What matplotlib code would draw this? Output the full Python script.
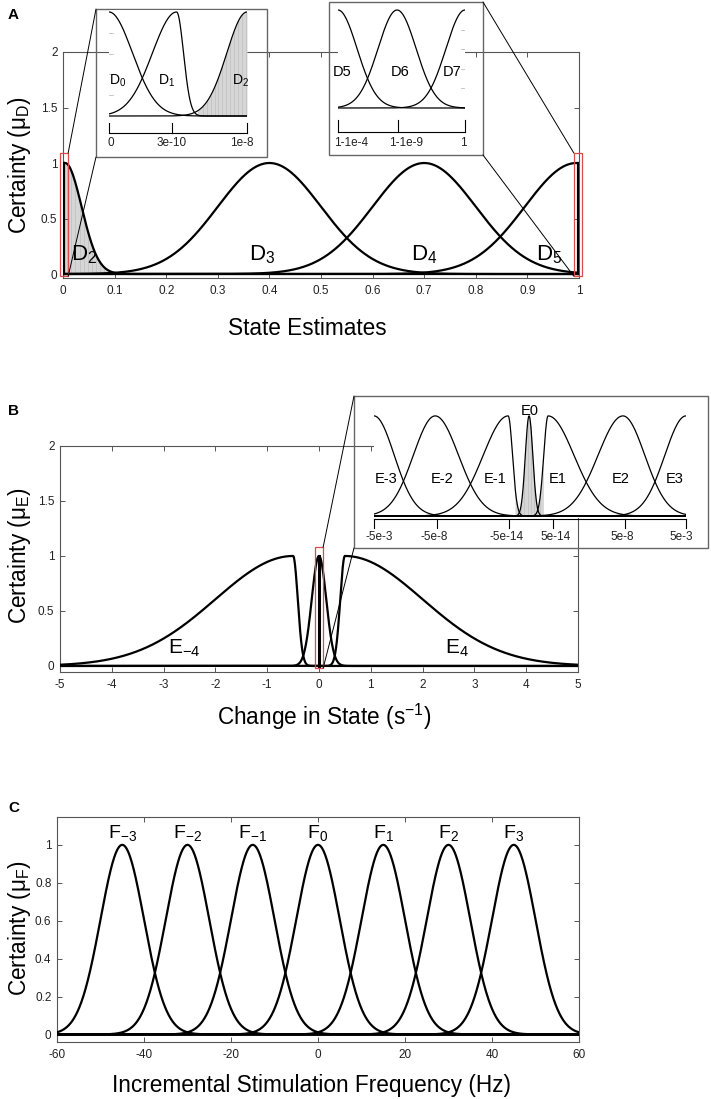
import numpy as np
import matplotlib
matplotlib.use('Agg')
import matplotlib.pyplot as plt
from matplotlib.patches import Rectangle, ConnectionPatch

plt.rcParams['font.family'] = ['Liberation Sans', 'DejaVu Sans']
plt.rcParams['mathtext.fontset'] = 'custom'
plt.rcParams['mathtext.rm'] = 'Liberation Sans'
plt.rcParams['mathtext.it'] = 'Liberation Sans:italic'
plt.rcParams['mathtext.bf'] = 'Liberation Sans:bold'

W, H = 711, 1099
SPINE = '#555555'
RED = '#d94a4a'
FILL = '0.84'
STREAK = '0.72'

# ============================================================
# Panel A : state estimates
# ============================================================
a_xticks = [0, 0.1, 0.2, 0.3, 0.4, 0.5, 0.6, 0.7, 0.8, 0.9, 1]
a_xticklabels = ['0', '0.1', '0.2', '0.3', '0.4', '0.5', '0.6', '0.7', '0.8', '0.9', '1']
a_yticks = [0, 0.5, 1, 1.5, 2]
a_yticklabels = ['0', '0.5', '1', '1.5', '2']
d_centers = [0.004, 0.4, 0.7, 0.995]      # D2..D5
d_sigmas = [0.032, 0.1, 0.1, 0.1]
d_spikes = [0.002, 0.999]                 # D0/D1 and D6/D7 squeezed at the ends
d_labels = ['D$_2$', 'D$_3$', 'D$_4$', 'D$_5$']
d_label_x = [0.040, 0.385, 0.700, 0.943]
d_label_y = [0.125, 0.125, 0.125, 0.125]
d2_fill_end = 0.088
a_zoom_left = (-0.005, 0.010)
a_zoom_right = (0.990, 1.005)
a_zoom_y = (-0.02, 1.09)

# inset A1 (D0..D2, normalised axis 0..1e-8)
a1_centers = [0.0, 0.49, 1.0]
a1_sig_left = [0.17, 0.175, 0.146]
a1_sig_right = [0.17, 0.05, 0.146]
a1_labels = ['D$_0$', 'D$_1$', 'D$_2$']
a1_label_u = [0.06, 0.42, 0.95]
a1_ticks = [0, 0.457, 1]
a1_ticklabels = ['0', '3e-10', '1e-8']
a1_ticklabel_u = [0.01, 0.45, 0.96]
a1_fill_start = 0.64

# inset A2 (D5..D7, normalised axis 1-1e-4..1)
a2_centers = [0.0, 0.465, 1.0]
a2_sigmas = [0.15, 0.15, 0.15]
a2_labels = ['D5', 'D6', 'D7']
a2_label_u = [0.03, 0.49, 0.90]
a2_ticks = [0, 0.47, 1]
a2_ticklabels = ['1-1e-4', '1-1e-9', '1']
a2_ticklabel_u = [0.10, 0.535, 0.99]

# ============================================================
# Panel B : change in state
# ============================================================
b_xticks = [-5, -4, -3, -2, -1, 0, 1, 2, 3, 4, 5]
b_yticks = [0, 0.5, 1, 1.5, 2]
b_yticklabels = ['0', '0.5', '1', '1.5', '2']
e_main_centers = [-0.5, 0.0, 0.5]
e_main_sig_left = [1.5, 0.14, 0.09]
e_main_sig_right = [0.09, 0.14, 1.5]
e_main_labels = ['E$_{-4}$', 'E$_4$']
e_main_label_x = [-2.6, 2.67]
e_main_label_y = [0.11, 0.11]
b_zoom_x = (-0.08, 0.08)
b_zoom_y = (-0.02, 1.08)

# inset B (E-3..E3, normalised axis -5e-3..5e-3)
eb_centers = [0.0, 0.196, 0.43, 0.497, 0.558, 0.798, 1.0]
eb_sig_left = [0.065, 0.07, 0.08, 0.012, 0.014, 0.08, 0.068]
eb_sig_right = [0.065, 0.075, 0.014, 0.012, 0.083, 0.07, 0.068]
eb_labels = ['E-3', 'E-2', 'E-1', 'E0', 'E1', 'E2', 'E3']
eb_label_u = [0.038, 0.218, 0.388, 0.50, 0.588, 0.79, 0.965]
eb_label_v = [0.37, 0.37, 0.37, 1.05, 0.37, 0.37, 0.37]
eb_ticks = [0, 0.202, 0.433, 0.574, 0.804, 1.0]
eb_ticklabels = ['-5e-3', '-5e-8', '-5e-14', '5e-14', '5e-8', '5e-3']
eb_ticklabel_u = [0.016, 0.192, 0.426, 0.583, 0.795, 0.984]
eb_fill_span = (0.452, 0.543)

# ============================================================
# Panel C : incremental stimulation frequency
# ============================================================
c_xticks = [-60, -40, -20, 0, 20, 40, 60]
c_yticks = [0, 0.2, 0.4, 0.6, 0.8, 1]
c_yticklabels = ['0', '0.2', '0.4', '0.6', '0.8', '1']
f_centers = [-45, -30, -15, 0, 15, 30, 45]
f_sigma = 5
f_labels = ['F$_{-3}$', 'F$_{-2}$', 'F$_{-1}$', 'F$_0$', 'F$_1$', 'F$_2$', 'F$_3$']
f_label_y = 1.035


def bump(x, c, sl, sr):
    x = np.asarray(x, dtype=float)
    s = np.where(x < c, sl, sr)
    return np.exp(-(x - c) ** 2 / (2 * s ** 2))


def px_axes(fig, l, t, r, b, **kw):
    return fig.add_axes([l / W, 1 - b / H, (r - l) / W, (b - t) / H], **kw)


def fig_pt(x, y):
    return (x / W, 1 - y / H)


def style_axes(ax):
    for s in ax.spines.values():
        s.set_color(SPINE)
        s.set_linewidth(0.8)
    ax.tick_params(direction='in', length=3.5, width=0.7, color=SPINE,
                   labelsize=8.5, labelcolor='#222222', top=True, right=True)
    ax.tick_params(axis='x', pad=5)
    ax.tick_params(axis='y', pad=4)


def style_inset(ax, ylim):
    ax.set_xlim(0, 1)
    ax.set_ylim(*ylim)
    ax.set_xticks([])
    ax.set_yticks([])
    for s in ax.spines.values():
        s.set_visible(False)
    ax.set_facecolor('white')


def inset_scale(ax, ticks, labels, label_u, y_line, y_tick, y_label):
    ax.plot([0, 1], [y_line, y_line], color='k', lw=0.8, clip_on=False)
    for t in ticks:
        ax.plot([t, t], [y_line, y_tick], color='k', lw=0.8, clip_on=False)
    for u, lab in zip(label_u, labels):
        ax.text(u, y_label, lab, ha='center', va='center', fontsize=8.5, color='#222222')


def streaks(ax, u, curve, lo, hi, n=14):
    for s in np.linspace(lo, hi, n):
        ax.plot([s, s], [0, np.interp(s, u, curve)], color=STREAK, lw=0.5, alpha=0.8, zorder=1)


fig = plt.figure(figsize=(W / 100, H / 100), dpi=100)

# ------------------------------------------------------------ panel A
axA = px_axes(fig, 63, 52, 579, 278)
style_axes(axA)
xa = np.linspace(0, 1, 2001)
d_curves = [bump(xa, c, s, s) for c, s in zip(d_centers, d_sigmas)]
d2 = d_curves[0]
mask = (xa >= d_spikes[0]) & (xa <= d2_fill_end)
axA.fill_between(xa[mask], 0, d2[mask], color=FILL, lw=0, zorder=1)
streaks(axA, xa, d2, 0.008, d2_fill_end - 0.008, 10)
for i, cur in enumerate(d_curves):
    xs, ys = (xa[xa >= d_centers[0]], cur[xa >= d_centers[0]]) if i == 0 else (xa, cur)
    axA.plot(xs, ys, color='k', lw=1.6, zorder=3)
for sx in d_spikes:
    axA.plot([sx, sx], [0, 1], color='k', lw=1.6, zorder=3)
for lab, x, y in zip(d_labels, d_label_x, d_label_y):
    axA.text(x, y, lab, ha='center', va='baseline', fontsize=16, zorder=4)
axA.set_xlim(0, 1)
axA.set_ylim(-0.036, 2)
axA.set_xticks(a_xticks)
axA.set_xticklabels(a_xticklabels)
axA.set_yticks(a_yticks)
axA.set_yticklabels(a_yticklabels)
for x0, x1 in (a_zoom_left, a_zoom_right):
    axA.add_patch(Rectangle((x0, a_zoom_y[0]), x1 - x0, a_zoom_y[1] - a_zoom_y[0],
                            fill=False, ec=RED, lw=0.9, clip_on=False, zorder=6))

# inset A1
a1 = px_axes(fig, 109, 10, 247, 118, zorder=5)
style_inset(a1, (-2 / 104, 1 + 2 / 104))
u = np.linspace(0, 1, 1001)
a1_curves = [bump(u, c, sl, sr) for c, sl, sr in zip(a1_centers, a1_sig_left, a1_sig_right)]
m1 = u >= a1_fill_start
a1.fill_between(u[m1], 0, a1_curves[2][m1], color=FILL, lw=0, zorder=1)
streaks(a1, u, a1_curves[2], a1_fill_start + 0.04, 0.99, 12)
for cur in a1_curves:
    a1.plot(u, cur, color='k', lw=0.9, zorder=3)
for v in (0.2, 0.4, 0.6, 0.8):
    a1.plot([0, 0.03], [v, v], color='0.75', lw=0.6, zorder=2)
for lab, x in zip(a1_labels, a1_label_u):
    a1.text(x, 0.3, lab, ha='center', va='baseline', fontsize=10, zorder=4)
inset_scale(a1, a1_ticks, a1_ticklabels, a1_ticklabel_u, -0.163, -0.067, -0.26)

# inset A2
a2 = px_axes(fig, 338, 8, 465, 110, zorder=5)
style_inset(a2, (-2 / 98, 1 + 2 / 98))
a2_curves = [bump(u, c, s, s) for c, s in zip(a2_centers, a2_sigmas)]
for cur in a2_curves:
    a2.plot(u, cur, color='k', lw=0.9, zorder=3)
for v in (0.2, 0.4, 0.6, 0.8):
    a2.plot([0.97, 1.0], [v, v], color='0.75', lw=0.6, zorder=2)
for lab, x in zip(a2_labels, a2_label_u):
    a2.text(x, 0.33, lab, ha='center', va='baseline', fontsize=10.5, zorder=4)
inset_scale(a2, a2_ticks, a2_ticklabels, a2_ticklabel_u, -0.245, -0.122, -0.357)

# ------------------------------------------------------------ panel B
axB = px_axes(fig, 60, 446, 578, 672)
style_axes(axB)
xb = np.linspace(-5, 5, 4001)
for c, sl, sr in zip(e_main_centers, e_main_sig_left, e_main_sig_right):
    axB.plot(xb, bump(xb, c, sl, sr), color='k', lw=1.6, zorder=3)
axB.plot([0, 0], [0, 1], color='k', lw=2.2, zorder=3)
for lab, x, y in zip(e_main_labels, e_main_label_x, e_main_label_y):
    axB.text(x, y, lab, ha='center', va='baseline', fontsize=15, zorder=4)
axB.set_xlim(-5, 5)
axB.set_ylim(-0.055, 2)
axB.set_xticks(b_xticks)
axB.set_xticklabels([str(t) for t in b_xticks])
axB.set_yticks(b_yticks)
axB.set_yticklabels(b_yticklabels)
axB.add_patch(Rectangle((b_zoom_x[0], b_zoom_y[0]), b_zoom_x[1] - b_zoom_x[0],
                        b_zoom_y[1] - b_zoom_y[0], fill=False, ec=RED, lw=0.9,
                        clip_on=False, zorder=6))

# inset B
ab = px_axes(fig, 374, 405, 686, 518, zorder=5)
style_inset(ab, (-2 / 101, 1 + 11 / 101))
eb_curves = [bump(u, c, sl, sr) for c, sl, sr in zip(eb_centers, eb_sig_left, eb_sig_right)]
env = np.maximum.reduce([eb_curves[2], eb_curves[3], eb_curves[4]])
mb = (u >= eb_fill_span[0]) & (u <= eb_fill_span[1])
ab.fill_between(u[mb], 0, env[mb], color=FILL, lw=0, zorder=1)
streaks(ab, u, env, eb_fill_span[0] + 0.01, eb_fill_span[1] - 0.01, 8)
for cur in eb_curves:
    ab.plot(u, cur, color='k', lw=0.9, zorder=3)
for lab, x, y in zip(eb_labels, eb_label_u, eb_label_v):
    ab.text(x, y, lab, ha='center', va='center', fontsize=10.5, zorder=4)
ab.plot([0, 1], [-0.03, -0.03], color='k', lw=0.8, clip_on=False)
for t in eb_ticks:
    ab.plot([t, t], [-0.03, -0.119], color='k', lw=0.8, clip_on=False)
for x, lab in zip(eb_ticklabel_u, eb_ticklabels):
    ab.text(x, -0.208, lab, ha='center', va='center', fontsize=8.5, color='#222222')

# ------------------------------------------------------------ panel C
axC = px_axes(fig, 57, 817, 579, 1042)
style_axes(axC)
xc = np.linspace(-60, 60, 2401)
for c in f_centers:
    axC.plot(xc, bump(xc, c, f_sigma, f_sigma), color='k', lw=1.6, zorder=3)
for lab, c in zip(f_labels, f_centers):
    axC.text(c, f_label_y, lab, ha='center', va='baseline', fontsize=14, zorder=4)
axC.set_xlim(-60, 60)
axC.set_ylim(-0.04, 1.147)
axC.set_xticks(c_xticks)
axC.set_xticklabels([str(t) for t in c_xticks])
axC.set_yticks(c_yticks)
axC.set_yticklabels(c_yticklabels)

# ------------------------------------------------------------ inset frames and connectors
for l, t, r, b in ((96, 9, 267, 157), (329, 2, 483, 155), (354, 396, 708, 548)):
    fig.add_artist(Rectangle(fig_pt(l, b), (r - l) / W, (b - t) / H, fill=False,
                             ec='#666666', lw=1.0, transform=fig.transFigure))


def connect(ax, xy, px):
    con = ConnectionPatch(xyA=xy, coordsA='data', axesA=ax, xyB=fig_pt(*px),
                          coordsB='figure fraction', color='k', lw=0.7)
    fig.add_artist(con)


connect(axA, (a_zoom_left[1], a_zoom_y[1]), (96, 9))
connect(axA, (a_zoom_left[1], a_zoom_y[0]), (96, 157))
connect(axA, (a_zoom_right[0], a_zoom_y[1]), (483, 2))
connect(axA, (a_zoom_right[0], a_zoom_y[0]), (483, 155))
connect(axB, (b_zoom_x[1], b_zoom_y[1]), (354, 396))
connect(axB, (b_zoom_x[1], b_zoom_y[0]), (354, 548))

# ------------------------------------------------------------ labels
for ch, yc in (('A', 15), ('B', 411), ('C', 808)):
    fig.text(*fig_pt(8, yc), ch, ha='left', va='center', fontsize=11, weight='bold')

for lab, yc in (('Certainty (μ$_{\\mathrm{D}}$)', 165),
                ('Certainty (μ$_{\\mathrm{E}}$)', 556),
                ('Certainty (μ$_{\\mathrm{F}}$)', 928)):
    fig.text(*fig_pt(6, yc), lab, rotation=90, ha='left', va='center', fontsize=16.3)

for lab, xc_, yb in (('State Estimates', 307, 335),
                     ('Change in State (s$^{-1}$)', 324, 725),
                     ('Incremental Stimulation Frequency (Hz)', 312, 1092)):
    fig.text(*fig_pt(xc_, yb), lab, ha='center', va='baseline', fontsize=16.3)

fig.savefig('out.png', dpi=100)
